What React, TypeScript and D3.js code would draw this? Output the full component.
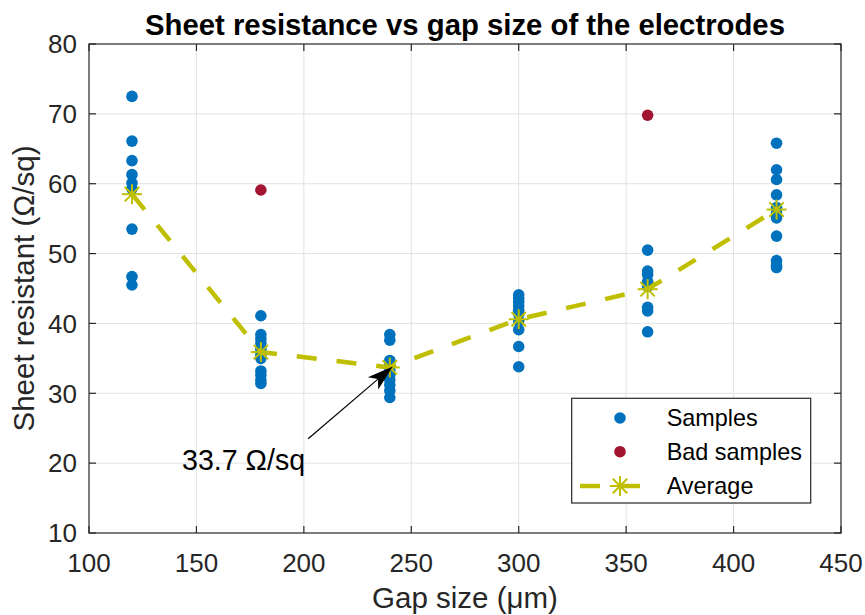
import React from "react";
import * as d3 from "d3";

// Gap sizes (µm) of the electrode sets
const gaps = [120, 180, 240, 300, 360, 420];

// Measured sheet resistance (Ω/sq) for each gap size
const samples120 = [72.5, 66.1, 63.3, 61.3, 60.1, 59.3, 53.5, 46.7, 45.5];
const samples180 = [41.1, 38.4, 37.8, 37.2, 36.3, 35.5, 35.0, 33.2, 32.6, 31.9, 31.4];
const samples240 = [38.4, 37.6, 34.7, 34.0, 33.3, 32.6, 31.9, 31.2, 30.4, 29.4];
const samples300 = [44.1, 43.6, 43.1, 42.5, 41.9, 41.3, 40.4, 39.1, 36.7, 33.8];
const samples360 = [50.5, 47.5, 47.0, 46.0, 45.3, 42.3, 41.8, 38.8];
const samples420 = [65.8, 62.0, 60.6, 58.4, 56.6, 55.8, 55.1, 52.5, 49.0, 48.3, 48.0];

// Outliers excluded from the average
const badGaps = [180, 360];
const badValues = [59.1, 69.8];

// Average sheet resistance per gap size
const averages = [58.5, 35.9, 33.7, 40.6, 44.9, 56.3];

const xTicks = [100, 150, 200, 250, 300, 350, 400, 450];
const yTicks = [10, 20, 30, 40, 50, 60, 70, 80];

const minLabel = "33.7 Ω/sq";

const W = 865;
const H = 615;
const left = 89;
const right = 841;
const top = 44;
const bottom = 533;

const BLUE = "#0072BD";
const RED = "#A2142F";
const YELLOW = "#BFBF00";
const INK = "#262626";
const FONT = "'Liberation Sans', Arial, Helvetica, sans-serif";

function Star({ x, y, r = 10 }: { x: number; y: number; r?: number }) {
  const d = r * 0.72;
  return (
    <g stroke={YELLOW} strokeWidth={2}>
      <line x1={x - r} y1={y} x2={x + r} y2={y} />
      <line x1={x} y1={y - r} x2={x} y2={y + r} />
      <line x1={x - d} y1={y - d} x2={x + d} y2={y + d} />
      <line x1={x - d} y1={y + d} x2={x + d} y2={y - d} />
    </g>
  );
}

export default function App() {
  const x = d3.scaleLinear().domain([100, 450]).range([left, right]);
  const y = d3.scaleLinear().domain([10, 80]).range([bottom, top]);

  const sampleSets = [samples120, samples180, samples240, samples300, samples360, samples420];
  const points = gaps.flatMap((g, i) => sampleSets[i].map((v) => ({ g, v })));

  const line = d3
    .line<number>()
    .x((_, i) => x(gaps[i]))
    .y((v) => y(v));

  // Arrow from the label to the minimum average
  const tail = { x: x(202), y: y(23.5) };
  const tip = { x: x(240) + 3, y: y(33.7) - 1 };
  const ang = Math.atan2(tip.y - tail.y, tip.x - tail.x);
  const headLen = 26;
  const headW = 8;
  const bx = tip.x - headLen * Math.cos(ang);
  const by = tip.y - headLen * Math.sin(ang);
  const px = -Math.sin(ang) * headW;
  const py = Math.cos(ang) * headW;
  const notch = 0.25;
  const nx = tip.x - headLen * (1 - notch) * Math.cos(ang);
  const ny = tip.y - headLen * (1 - notch) * Math.sin(ang);

  const tickLen = 7;

  return (
    <svg
      width={W}
      height={H}
      style={{ position: "absolute", left: 0, top: 0, background: "#fff" }}
      fontFamily={FONT}
    >
      <rect x={0} y={0} width={W} height={H} fill="#fff" />

      {/* grid */}
      <g stroke="#e3e3e3" strokeWidth={1}>
        {xTicks.slice(1, -1).map((t) => (
          <line key={"gx" + t} x1={x(t)} x2={x(t)} y1={top} y2={bottom} />
        ))}
        {yTicks.slice(1, -1).map((t) => (
          <line key={"gy" + t} x1={left} x2={right} y1={y(t)} y2={y(t)} />
        ))}
      </g>

      {/* samples */}
      <g fill={BLUE}>
        {points.map((p, i) => (
          <circle key={i} cx={x(p.g)} cy={y(p.v)} r={5.8} />
        ))}
      </g>
      <g fill={RED}>
        {badGaps.map((g, i) => (
          <circle key={i} cx={x(g)} cy={y(badValues[i])} r={5.8} />
        ))}
      </g>

      {/* average */}
      <path
        d={line(averages) ?? ""}
        fill="none"
        stroke={YELLOW}
        strokeWidth={4.5}
        strokeDasharray="20 20"
      />
      {averages.map((v, i) => (
        <Star key={i} x={x(gaps[i])} y={y(v)} />
      ))}

      {/* axes box and ticks */}
      <rect
        x={left}
        y={top}
        width={right - left}
        height={bottom - top}
        fill="none"
        stroke={INK}
        strokeWidth={1.2}
      />
      <g stroke={INK} strokeWidth={1.2}>
        {xTicks.map((t) => (
          <g key={"tx" + t}>
            <line x1={x(t)} x2={x(t)} y1={bottom} y2={bottom - tickLen} />
            <line x1={x(t)} x2={x(t)} y1={top} y2={top + tickLen} />
          </g>
        ))}
        {yTicks.map((t) => (
          <g key={"ty" + t}>
            <line x1={left} x2={left + tickLen} y1={y(t)} y2={y(t)} />
            <line x1={right} x2={right - tickLen} y1={y(t)} y2={y(t)} />
          </g>
        ))}
      </g>

      {/* tick labels */}
      <g fill={INK} fontSize={26}>
        {xTicks.map((t) => (
          <text key={"lx" + t} x={x(t)} y={572} textAnchor="middle">
            {t}
          </text>
        ))}
        {yTicks.map((t) => (
          <text key={"ly" + t} x={77} y={y(t) + 9.3} textAnchor="end">
            {t}
          </text>
        ))}
      </g>

      {/* axis labels */}
      <text x={(left + right) / 2} y={608} textAnchor="middle" fontSize={29.5} fill={INK}>
        Gap size (μm)
      </text>
      <text
        transform={`translate(34, ${(top + bottom) / 2}) rotate(-90)`}
        textAnchor="middle"
        fontSize={29.5}
        fill={INK}
      >
        Sheet resistant (Ω/sq)
      </text>

      {/* title */}
      <text
        x={(left + right) / 2}
        y={35}
        textAnchor="middle"
        fontSize={29.3}
        fontWeight="bold"
        fill="#000"
      >
        Sheet resistance vs gap size of the electrodes
      </text>

      {/* annotation */}
      <line x1={tail.x} y1={tail.y} x2={nx} y2={ny} stroke="#000" strokeWidth={1.2} />
      <path
        d={`M${tip.x},${tip.y} L${bx + px},${by + py} L${nx},${ny} L${bx - px},${by - py} Z`}
        fill="#000"
      />
      <text x={182} y={470} fontSize={28.6} fill="#000">
        {minLabel}
      </text>

      {/* legend */}
      <rect x={571.7} y={398.3} width={239} height={104.7} fill="#fff" stroke={INK} strokeWidth={1.2} />
      <circle cx={620} cy={418} r={5.8} fill={BLUE} />
      <circle cx={620} cy={451.7} r={5.8} fill={RED} />
      <line
        x1={580}
        x2={642}
        y1={486}
        y2={486}
        stroke={YELLOW}
        strokeWidth={4.5}
        strokeDasharray="20 20"
      />
      <Star x={620} y={486} />
      <g fontSize={23.4} fill="#000">
        <text x={666.7} y={418 + 8.4}>Samples</text>
        <text x={666.7} y={451.7 + 8.4}>Bad samples</text>
        <text x={666.7} y={486 + 8.4}>Average</text>
      </g>
    </svg>
  );
}
